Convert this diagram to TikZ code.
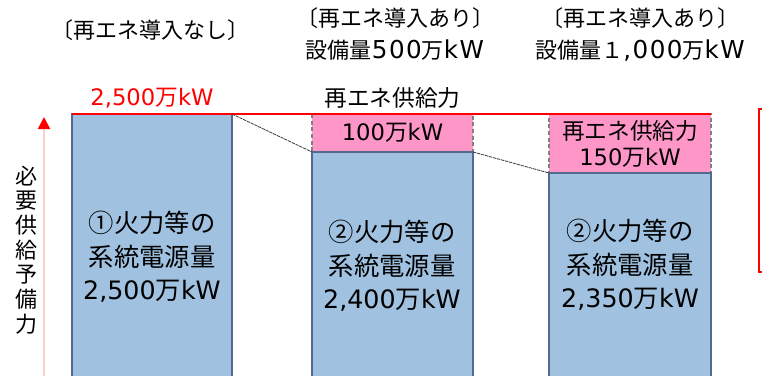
\documentclass[tikz,border=0pt]{standalone}
\usepackage{fontspec}
\setmainfont{Noto Sans CJK JP}
\newfontfamily\latinFont{DejaVu Sans}
\newfontfamily\latinWideFont[Scale=1.12, LetterSpace=6]{DejaVu Sans}
\newcommand\latinText[1]{{\latinFont #1}}
\newcommand\latinWide[1]{{\latinWideFont #1}}
\usetikzlibrary{fit,arrows.meta}
\definecolor{barBlue}{RGB}{160,194,224}
\definecolor{barEdge}{RGB}{84,106,140}
\definecolor{renewPink}{RGB}{255,150,200}
\definecolor{axisPink}{RGB}{255,205,205}
\definecolor{linkGray}{RGB}{60,60,60}
\tikzset{
  fossilBar/.style={
    draw=barEdge, fill=barBlue, line width=1.1pt,
    inner sep=0pt, outer sep=0pt
  },
  renewBar/.style={
    draw=gray, fill=renewPink, line width=1.1pt,
    dash pattern=on 3pt off 2pt, inner sep=0pt, outer sep=0pt
  },
  barLabel/.style={
    align=center, inner sep=0pt,
    font=\fontsize{19}{25}\selectfont
  },
  smallLabel/.style={
    align=center, inner sep=0pt,
    font=\fontsize{17}{19.5}\selectfont
  },
  caseLabel/.style={
    align=center, inner sep=0pt,
    font=\fontsize{16.5}{24}\selectfont
  },
  linkLine/.style={
    draw=linkGray, line width=0.6pt, dash pattern=on 2.5pt off 0.6pt
  }
}

\begin{document}
\begin{tikzpicture}[x=0.75pt,y=-0.75pt]
    \useasboundingbox (0,0) rectangle (762,375);
    \clip (0,0) rectangle (762,375);

    % case titles
    \node[caseLabel] (case1) at (150,30) {〔再エネ導入なし〕};
    \node[caseLabel] (case2) at (395,34)
      {〔再エネ導入あり〕\\設備量\latinWide{500}万\latinWide{kW}};
    \node[caseLabel] (case3) at (640,34)
      {〔再エネ導入あり〕\\設備量１\latinWide{,000}万\latinWide{kW}};

    % renewable parts
    \node[renewBar, fit={(312,114) (473,152)}] (renew2) {};
    \node[renewBar, fit={(549,114) (711,173)}] (renew3) {};

    % fossil bars
    \node[fossilBar, fit={(72,114) (232,380)}] (fossil1) {};
    \node[fossilBar, fit={(312,152) (473,380)}] (fossil2) {};
    \node[fossilBar, fit={(549,173) (711,380)}] (fossil3) {};

    % demand level
    \draw[red, line width=1pt] (fossil1.north west) -- (renew3.north east);
    \node[smallLabel, text=red, above=4pt] (demand) at (fossil1.north)
      {\latinText{2,500}万\latinText{kW}};

    % links between bars
    \draw[linkLine] (fossil1.north east) -- (fossil2.north west);
    \draw[linkLine] (fossil2.north east) -- (fossil3.north west);

    % bar text
    \node[barLabel] (text1) at (152,257)
      {①火力等の\\系統電源量\\\latinText{2,500}万\latinText{kW}};
    \node[barLabel] (text2) at (392,266)
      {②火力等の\\系統電源量\\\latinText{2,400}万\latinText{kW}};
    \node[barLabel] (text3) at (630,265)
      {②火力等の\\系統電源量\\\latinText{2,350}万\latinText{kW}};
    \node[smallLabel, above=4pt] (renewTitle2) at (renew2.north) {再エネ供給力};
    \node[smallLabel] (renewText2) at (renew2.center)
      {\latinText{100}万\latinText{kW}};
    \node[smallLabel] (renewText3) at (renew3.center)
      {再エネ供給力\\\latinText{150}万\latinText{kW}};

    % reserve axis
    \coordinate (axisBase) at (44,380);
    \coordinate (axisTop) at (44,117);
    \draw[axisPink, line width=1.5pt,
      -{Triangle[color=red, length=9pt, width=9pt]}] (axisBase) -- (axisTop);
    \node[align=center, inner sep=0pt, font=\fontsize{16.5}{18.5}\selectfont]
      (reserve) at (27,250) {必\\要\\供\\給\\予\\備\\力};

    % note frame at right edge
    \draw[red, line width=1pt] (759,109) rectangle (800,272);
  \end{tikzpicture}
\end{document}
